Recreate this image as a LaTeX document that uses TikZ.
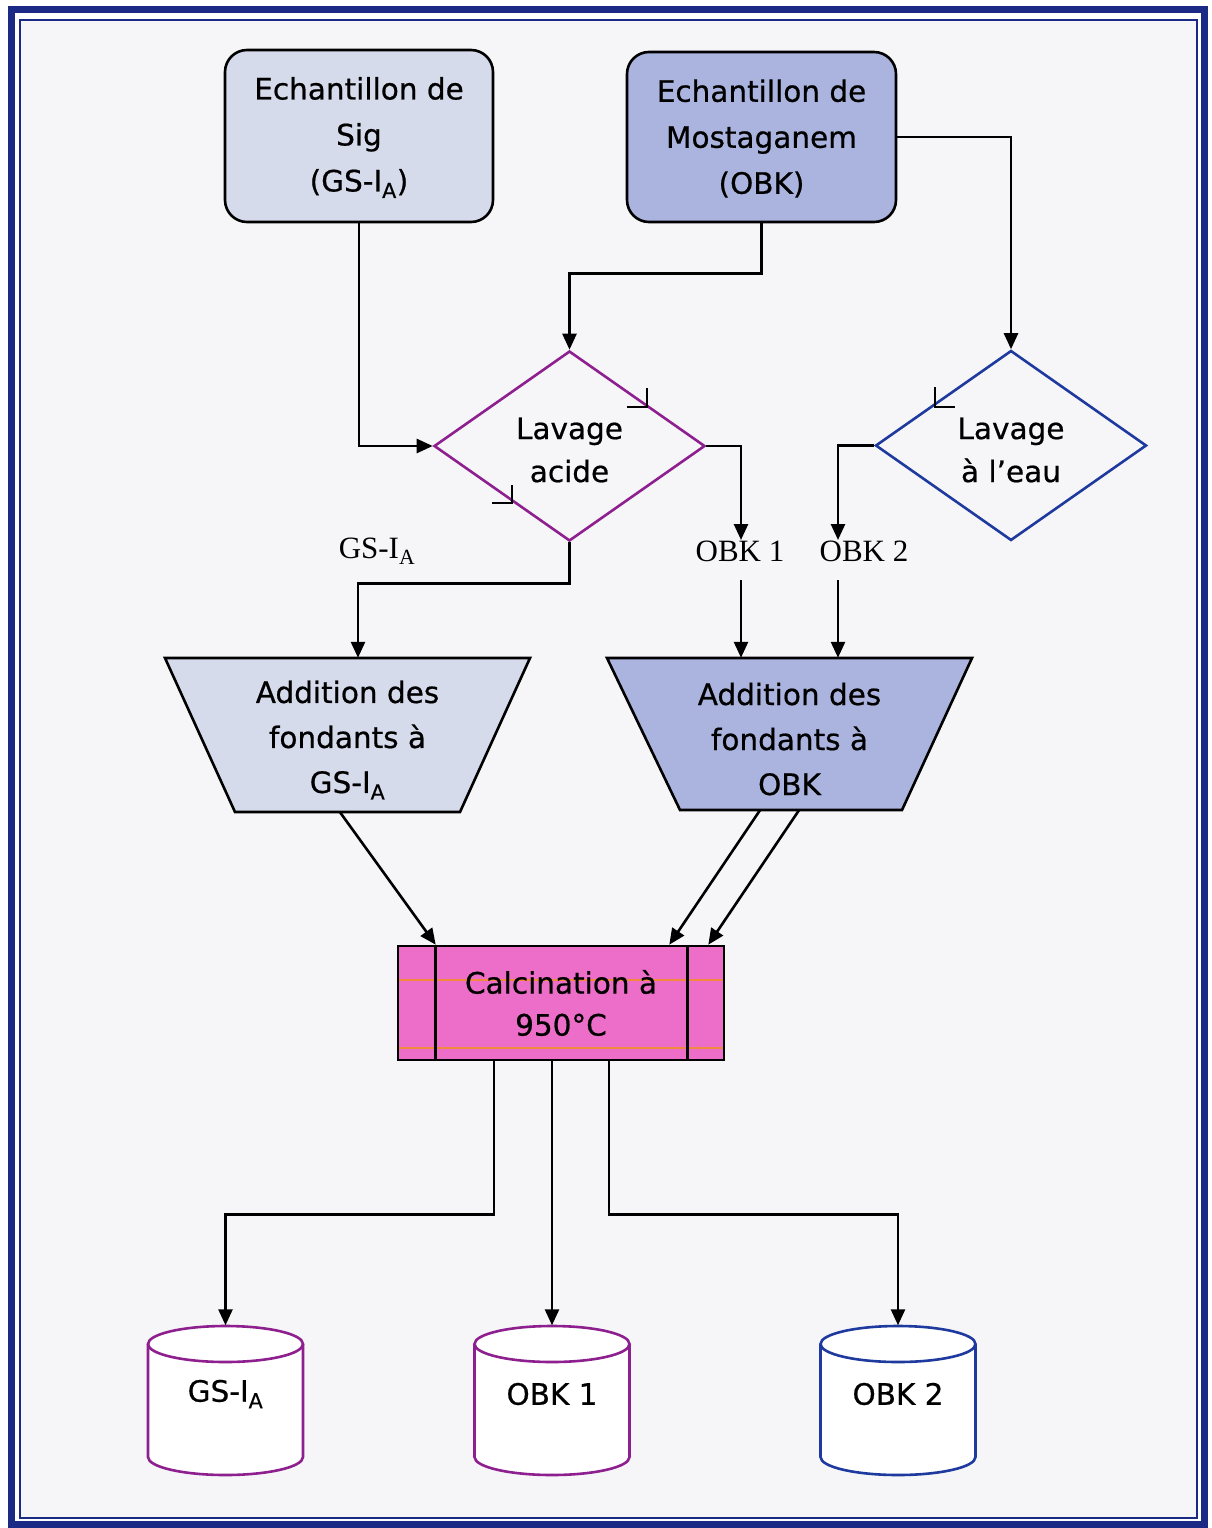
\documentclass[tikz,border=0pt]{standalone}
\usepackage{fontspec}
\setmainfont{DejaVu Sans}[FakeBold=0.6]
\newfontfamily\serifl{Liberation Serif}
\usetikzlibrary{shapes.geometric,arrows.meta,calc}
\definecolor{frameblue}{HTML}{1B2A84}
\definecolor{pagebg}{HTML}{F6F6F9}
\definecolor{boxA}{HTML}{D6DBEC}
\definecolor{boxB}{HTML}{AAB4DE}
\definecolor{calcpink}{HTML}{EC6EC8}
\definecolor{purp}{HTML}{8E1F8E}
\definecolor{blu}{HTML}{1F3A9E}
\definecolor{orangeline}{HTML}{F28A3C}
\newcommand\drum[4]{%
  \draw[line width=2.6pt, draw=#3, fill=white] ({#2-77.5},1344) -- ({#2-77.5},1457)
     arc[start angle=180, end angle=0, x radius=77.5, y radius=18] -- ({#2+77.5},1344);
  \draw[line width=2.6pt, draw=#3, fill=white] (#2,1344) ellipse[x radius=77.5, y radius=18];
  \node[minimum width=155pt, minimum height=150pt, inner sep=0pt] (#1) at (#2,1400.5) {};
  \node[txt] (#1t) at (#2,1394) {#4};
}
\begin{document}
\begin{tikzpicture}[x=1pt,y=-1pt,
  txt/.style={font=\fontsize{29.5}{46}\selectfont, align=center, inner sep=0pt},
  roundbox/.style={draw=black, line width=2.6pt, rounded corners=22pt, inner sep=0pt},
  lozenge/.style={diamond, line width=2.6pt, inner sep=0pt,
     minimum width=271pt, minimum height=190pt, shape aspect=1.43},
  lbl/.style={font=\serifl\fontsize{31}{36}\selectfont, inner sep=0pt},
  arr/.style={line width=2.6pt, -{Triangle[length=16pt,width=14pt]}},
  tick/.style={line width=1.8pt, draw=black}
]
\useasboundingbox (0,0) rectangle (1211,1528);
\fill[white] (0,0) rectangle (1211,1528);
\fill[pagebg] (20,20) rectangle (1197,1518);
\draw[frameblue, line width=7pt] (11,10) rectangle (1204,1524);
\draw[frameblue, line width=2.5pt] (20,20) rectangle (1197,1518);

% top boxes
\node[roundbox, fill=boxA, minimum width=268pt, minimum height=172pt] (b1) at (359,136) {};
\node[txt] (b1t) at (359,137.5) {Echantillon de\\Sig\\(GS-I\textsubscript{A})};
\node[roundbox, fill=boxB, minimum width=269pt, minimum height=170pt] (b2) at (761.5,137) {};
\node[txt] (b2t) at (761.5,138.5) {Echantillon de\\Mostaganem\\(OBK)};

% diamonds
\node[lozenge, draw=purp] (d1) at (569.5,446) {};
\node[txt, font=\fontsize{29.5}{43}\selectfont] (d1t) at (569.5,450) {Lavage\\acide};
\node[lozenge, draw=blu] (d2) at (1011,445.5) {};
\node[txt, font=\fontsize{29.5}{43}\selectfont] (d2t) at (1011,450) {Lavage\\à l’eau};
\draw[tick] (647,388) -- (647,407) -- (627,407);
\draw[tick] (512,485) -- (512,503) -- (492,503);
\draw[tick] (935,387) -- (935,407) -- (955,407);

% labels
\node[lbl] (lg) at (377,551) {GS-I\textsubscript{A}};
\node[lbl] (lo1) at (740,551) {OBK 1};
\node[lbl] (lo2) at (864,551) {OBK 2};
\coordinate (o1top) at (741,540);
\coordinate (o1bot) at (741,580);
\coordinate (o2top) at (838,540);
\coordinate (o2bot) at (838,580);

% trapezoids
\filldraw[fill=boxA, draw=black, line width=2.6pt] (165,658) -- (530,658) -- (460,812) -- (235,812) -- cycle;
\filldraw[fill=boxB, draw=black, line width=2.6pt] (607,658) -- (972,658) -- (902,810) -- (680,810) -- cycle;
\node[minimum width=365pt, minimum height=154pt, inner sep=0pt] (t1) at (347.5,735) {};
\node[txt, font=\fontsize{29.5}{45}\selectfont] (t1t) at (347.5,740) {Addition des\\fondants à\\GS-I\textsubscript{A}};
\node[minimum width=365pt, minimum height=152pt, inner sep=0pt] (t2) at (789.5,734) {};
\node[txt, font=\fontsize{29.5}{45}\selectfont] (t2t) at (789.5,739) {Addition des\\fondants à\\OBK};

% calcination
\node[txt, font=\fontsize{29.5}{42}\selectfont, fill=calcpink, draw=black, line width=2.6pt,
  minimum width=326pt, minimum height=114pt,
  path picture={
    \draw[orangeline, line width=2.5pt] ([yshift=-34pt]path picture bounding box.north west) -- ([yshift=-34pt]path picture bounding box.north east);
    \draw[orangeline, line width=2.5pt] ([yshift=12pt]path picture bounding box.south west) -- ([yshift=12pt]path picture bounding box.south east);
  }] (c) at (561,1003) {Calcination à\\950°C};
\draw[line width=2.6pt] ([xshift=39pt]c.north west) -- ([xshift=39pt]c.south west);
\draw[line width=2.6pt] ([xshift=-38pt]c.north east) -- ([xshift=-38pt]c.south east);

% cylinders
\drum{cy1}{225.5}{purp}{GS-I\textsubscript{A}}
\drum{cy2}{552}{purp}{OBK 1}
\drum{cy3}{898}{blu}{OBK 2}

% connectors
\draw[arr] (b1.south) |- (d1.west);
\draw[arr] (b2.south) -- ++(0,50) -| (d1.north);
\draw[arr] (b2.east) -| (d2.north);
\draw[arr] (d1.east) -| (o1top);
\draw[arr] (d2.west) -| (o2top);
\draw[arr] (d1.south) -- ++(0,41) -| ([xshift=10.5pt]t1.north);
\draw[arr] (o1bot) -- (o1bot |- t2.north);
\draw[arr] (o2bot) -- (o2bot |- t2.north);
\draw[arr] ([xshift=-7.5pt]t1.south) -- ([xshift=39pt]c.north west);
\draw[arr] ([xshift=-29.5pt]t2.south) -- ([xshift=-56pt]c.north east);
\draw[arr] ([xshift=9.5pt]t2.south) -- ([xshift=-17pt]c.north east);
\draw[arr] ([xshift=-67pt]c.south) -- ++(0,153) -| (cy1.north);
\draw[arr] (cy2.north |- c.south) -- (cy2.north);
\draw[arr] ([xshift=48pt]c.south) -- ++(0,153) -| (cy3.north);
\end{tikzpicture}
\end{document}
